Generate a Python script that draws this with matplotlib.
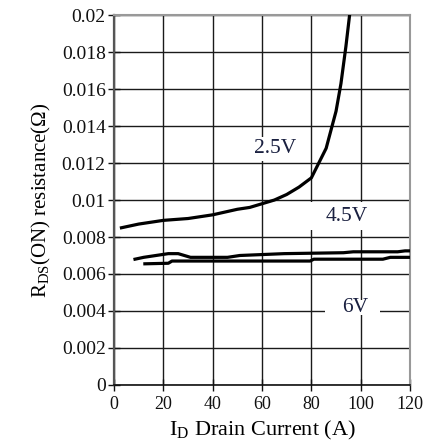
import matplotlib
matplotlib.use("Agg")
import matplotlib.pyplot as plt
from matplotlib.patches import Rectangle

plt.rcParams['font.family'] = ['Liberation Serif', 'DejaVu Serif']

# Data
x_25 = [3, 10, 20, 30, 40, 50, 55, 60, 65, 70, 75, 80, 83, 86, 88, 90, 92, 94, 95.5]
y_25 = [0.0085, 0.0087, 0.0089, 0.0090, 0.0092, 0.0095, 0.0096, 0.0098, 0.0100,
        0.0103, 0.0107, 0.0112, 0.0120, 0.0128, 0.0138, 0.0148, 0.0163, 0.0183, 0.0200]

x_45 = [8.5, 12, 22, 26, 31, 46, 51, 69, 93, 97, 115, 118, 120]
y_45 = [0.0068, 0.0069, 0.0071, 0.0071, 0.0069, 0.0069, 0.0070, 0.0071, 0.00715,
        0.0072, 0.0072, 0.00725, 0.00725]

x_6 = [12.5, 22, 23.5, 79.5, 81, 109, 112, 120]
y_6 = [0.00655, 0.00658, 0.0067, 0.0067, 0.0068, 0.0068, 0.0069, 0.0069]

x_ticks = [0, 20, 40, 60, 80, 100, 120]
y_ticks = [0, 0.002, 0.004, 0.006, 0.008, 0.01, 0.012, 0.014, 0.016, 0.018, 0.02]
y_tick_labels = ["0", "0.002", "0.004", "0.006", "0.008", "0.01", "0.012",
                 "0.014", "0.016", "0.018", "0.02"]

labels = ["2.5V", "4.5V", "6V"]
label_pos = [(65.3, 0.0128), (94.4, 0.0091), (97.7, 0.0042)]
# white boxes behind the labels: (x0, y0, width, height)
label_boxes = [(56, 0.0121, 18, 0.0013), (77, 0.0084, 34, 0.0015), (85.5, 0.0038, 22.3, 0.0008)]

fig = plt.figure(figsize=(4.24, 4.46), dpi=100)
ax = fig.add_axes([0.269, 0.137, 0.698, 0.829])

ax.set_xlim(0, 120)
ax.set_ylim(0, 0.02)
ax.set_xticks(x_ticks)
ax.set_xticklabels([str(v) for v in x_ticks])
ax.set_yticks(y_ticks)
ax.set_yticklabels(y_tick_labels)

ax.grid(True, color='#1a1a1a', linewidth=1.0, zorder=0)
ax.set_axisbelow(True)

for s in ['top', 'right']:
    ax.spines[s].set_color('#999999')
    ax.spines[s].set_linewidth(1.5)
ax.spines['left'].set_color('#555555')
ax.spines['left'].set_linewidth(1.6)
ax.spines['bottom'].set_color('#111111')
ax.spines['bottom'].set_linewidth(1.2)

ax.tick_params(axis='both', direction='inout', length=8, width=1.0, colors='#111111')
ax.tick_params(axis='y', pad=2, labelsize=14)
ax.tick_params(axis='x', pad=4, labelsize=13)

for (bx, by, bw, bh) in label_boxes:
    ax.add_patch(Rectangle((bx, by), bw, bh, facecolor='white', edgecolor='none', zorder=2))

ax.plot(x_25, y_25, color='black', linewidth=2.3, zorder=3)
ax.plot(x_45, y_45, color='black', linewidth=2.3, zorder=3)
ax.plot(x_6, y_6, color='black', linewidth=2.3, zorder=3)

for lab, (lx, ly) in zip(labels, label_pos):
    ax.text(lx, ly, lab, fontsize=15.5, color='#1a2040', ha='center', va='center',
            zorder=4)

ax.set_xlabel("I$_\\mathregular{D}$ Drain Current (A)", fontsize=16, labelpad=4)
ax.set_ylabel("R$_\\mathregular{DS}$(ON) resistance(Ω)", fontsize=15, labelpad=6)

fig.savefig("out.png", dpi=100)
